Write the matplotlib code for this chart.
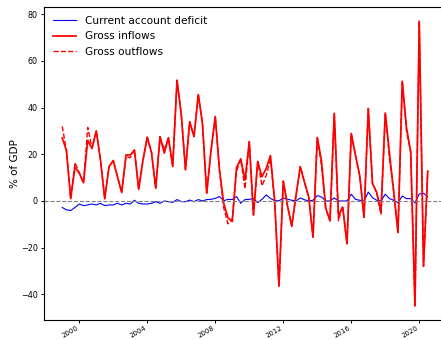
import matplotlib
matplotlib.use("Agg")
import matplotlib.pyplot as plt
import matplotlib.dates as mdates
import pandas as pd

# quarterly, 1999Q1 - 2020Q3, % of GDP
start = "1999-01-01"
n_quarters = 87

ca_deficit = [
    -2.8, -3.8, -4.1, -2.8, -1.3, -2.0, -1.7, -1.3, -1.7, -1.0,
    -2.0, -1.7, -1.7, -1.0, -1.7, -1.0, -1.3, 0.3, -1.0, -1.3,
    -1.3, -1.0, -0.3, -1.0, 0.0, -0.3, -0.6, 0.6, -0.3, -0.3,
    0.4, -0.3, 0.6, 0.0, 0.6, 0.7, 1.1, 1.9, 0.1, 0.7,
    0.6, 1.9, -1.0, 0.6, 0.7, 1.0, -0.7, 0.7, 2.6, 1.1,
    0.1, 0.1, 1.2, 0.8, 0.3, 0.0, 1.3, 0.5, 0.0, 0.3,
    2.3, 1.7, 0.0, 0.0, 1.3, 0.0, 0.0, 0.0, 2.9, 0.7,
    0.3, 0.0, 3.8, 1.4, 0.3, 0.0, 2.9, 1.0, 0.3, -0.7,
    2.1, 1.0, 1.0, -0.8, 3.0, 3.3, 1.8,
]

gross_inflows = [
    27.0, 21.5, 1.0, 14.5, 12.0, 7.8, 26.0, 22.5, 30.0, 17.5,
    1.0, 14.7, 17.3, 10.4, 3.6, 19.7, 19.7, 21.8, 5.0, 17.5,
    27.3, 20.8, 5.5, 27.5, 20.5, 27.1, 14.8, 51.7, 37.0, 13.4,
    33.9, 27.6, 45.6, 33.2, 3.4, 21.4, 36.2, 13.2, -1.0, -7.3,
    -8.8, 14.3, 18.0, 9.0, 25.4, -6.0, 16.9, 10.4, 14.0, 19.5,
    -0.3, -36.5, 8.5, -2.0, -10.8, 2.4, 14.7, 8.0, 1.8, -15.5,
    27.2, 17.3, -3.1, -8.5, 37.5, -6.2, -2.8, -18.3, 28.9, 19.5,
    10.8, -7.0, 39.6, 7.5, 3.6, -4.6, 37.7, 20.5, 4.0, -13.5,
    51.3, 31.5, 21.0, -44.9, 77.0, -28.0, 12.8,
]

gross_outflows = [
    32.0, 21.5, 1.0, 16.5, 12.0, 7.8, 31.5, 22.5, 30.0, 17.5,
    1.0, 14.7, 17.3, 10.4, 3.6, 19.0, 18.5, 21.8, 5.0, 17.5,
    27.3, 20.8, 5.5, 27.5, 22.0, 27.1, 14.8, 51.7, 37.0, 13.4,
    33.9, 27.6, 45.6, 33.2, 3.4, 21.4, 36.2, 13.2, -3.0, -9.8,
    -7.5, 12.5, 18.0, 5.2, 25.4, -6.0, 16.9, 6.5, 11.0, 18.0,
    -0.3, -36.5, 8.5, -2.0, -10.8, 2.4, 14.7, 8.0, 1.8, -15.5,
    27.2, 15.0, -3.1, -8.5, 37.5, -8.5, -2.0, -18.3, 28.9, 19.5,
    10.8, -7.0, 39.6, 7.5, 3.6, -6.0, 37.7, 18.0, 4.0, -13.5,
    51.3, 30.0, 21.0, -44.9, 77.0, -28.0, 12.8,
]

dates = pd.date_range(start, periods=n_quarters, freq="QS")

fig = plt.figure(figsize=(4.41, 3.40), dpi=100)
ax = fig.add_axes([44 / 441, 20 / 340, 402 / 441, 313 / 340])

ax.plot(dates, ca_deficit, color="blue", lw=0.8, label="Current account deficit")
ax.plot(dates, gross_inflows, color="red", lw=1.25, label="Gross inflows")
ax.plot(dates, gross_outflows, color="red", lw=1.0, ls="--", label="Gross outflows")
ax.axhline(0, color="grey", lw=0.8, ls="--")

ax.xaxis.set_major_locator(mdates.YearLocator(4))
ax.xaxis.set_major_formatter(mdates.DateFormatter("%Y"))
plt.setp(ax.get_xticklabels(), rotation=30, ha="right", fontsize=5.0)
ax.tick_params(axis="x", pad=1.0)
ax.tick_params(axis="y", labelsize=5.8, pad=2)
ax.tick_params(length=2.5, width=0.7)
ax.set_ylabel("% of GDP", fontsize=7.5)
ax.yaxis.set_label_coords(-0.06, 0.5)
for s in ax.spines.values():
    s.set_linewidth(0.8)

ax.legend(loc="upper left", frameon=False, fontsize=7.6, handlelength=2.2,
          borderaxespad=0.45, labelspacing=0.5)

fig.savefig("out.png", dpi=100)
